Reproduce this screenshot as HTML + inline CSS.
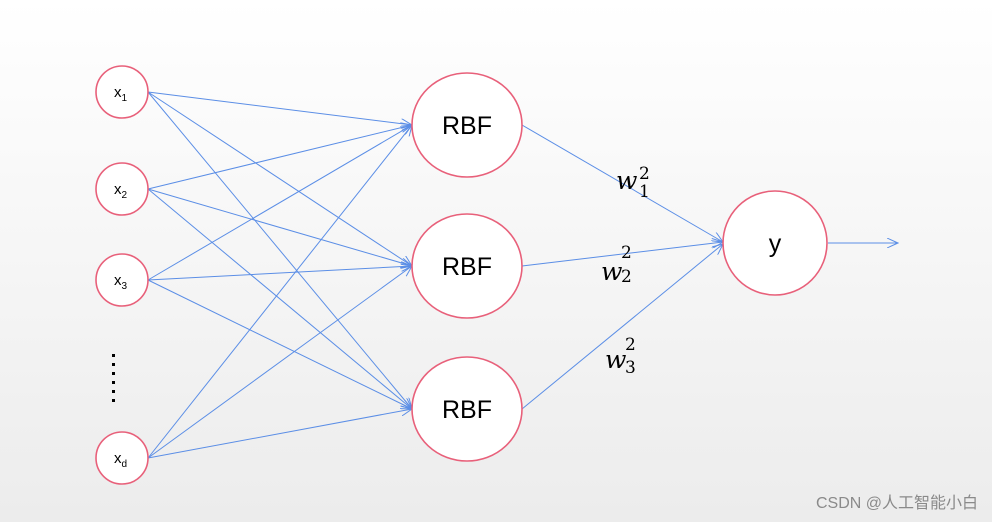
<!DOCTYPE html>
<html><head><style>
body{margin:0;}
</style></head><body>
<svg width="992" height="522" xmlns="http://www.w3.org/2000/svg" style="display:block">
<defs>
<linearGradient id="bg" x1="0" y1="0" x2="0" y2="1">
<stop offset="0" stop-color="#ffffff"/><stop offset="1" stop-color="#ececec"/>
</linearGradient>
<marker id="a" markerWidth="12" markerHeight="10" refX="11" refY="5" orient="auto" markerUnits="userSpaceOnUse">
<path d="M0,0 L11,5 L0,10" fill="none" stroke="#5b8ee6" stroke-width="1"/>
</marker>
</defs>
<rect width="992" height="522" fill="url(#bg)"/>
<g stroke="#5b8ee6" stroke-width="1" fill="none" marker-end="url(#a)">
<line x1="148" y1="92" x2="412" y2="125"/><line x1="148" y1="92" x2="412" y2="266"/><line x1="148" y1="92" x2="412" y2="409"/>
<line x1="148" y1="189" x2="412" y2="125"/><line x1="148" y1="189" x2="412" y2="266"/><line x1="148" y1="189" x2="412" y2="409"/>
<line x1="148" y1="280" x2="412" y2="125"/><line x1="148" y1="280" x2="412" y2="266"/><line x1="148" y1="280" x2="412" y2="409"/>
<line x1="148" y1="458" x2="412" y2="125"/><line x1="148" y1="458" x2="412" y2="266"/><line x1="148" y1="458" x2="412" y2="409"/>
<line x1="522" y1="125" x2="723" y2="242"/><line x1="522" y1="266" x2="723" y2="242"/><line x1="522" y1="409" x2="723" y2="244"/>
<line x1="828" y1="243" x2="898" y2="243"/>
</g>
<g fill="#fff" stroke="#e8607a" stroke-width="1.6">
<circle cx="122" cy="92" r="26"/><circle cx="122" cy="189" r="26"/><circle cx="122" cy="280" r="26"/><circle cx="122" cy="458" r="26"/>
<ellipse cx="467" cy="125" rx="55" ry="52"/><ellipse cx="467" cy="266" rx="55" ry="52"/><ellipse cx="467" cy="409" rx="55" ry="52"/>
<ellipse cx="775" cy="243" rx="52" ry="52"/>
</g>
<g font-family="Liberation Sans, sans-serif" fill="#000">
<text x="114" y="97" font-size="15">x<tspan font-size="10" dy="4">1</tspan></text>
<text x="114" y="194" font-size="15">x<tspan font-size="10" dy="4">2</tspan></text>
<text x="114" y="285" font-size="15">x<tspan font-size="10" dy="4">3</tspan></text>
<text x="114" y="463" font-size="15">x<tspan font-size="10" dy="4">d</tspan></text>
<text x="467" y="134" font-size="25" text-anchor="middle">RBF</text>
<text x="467" y="275" font-size="25" text-anchor="middle">RBF</text>
<text x="467" y="418" font-size="25" text-anchor="middle">RBF</text>
<text x="775" y="252" font-size="25" text-anchor="middle">y</text>
</g>
<g fill="#000">
<rect x="112" y="354" width="3" height="3"/><rect x="112" y="363" width="3" height="3"/><rect x="112" y="372" width="3" height="3"/><rect x="112" y="381" width="3" height="3"/><rect x="112" y="390" width="3" height="3"/><rect x="112" y="399" width="3" height="3"/>
</g>
<g font-family="DejaVu Serif, serif" fill="#000">
<text x="616" y="189" font-size="25" font-style="italic">w</text><text x="639" y="179" font-size="17">2</text><text x="639" y="197" font-size="17">1</text>
<text x="601" y="280" font-size="25" font-style="italic">w</text><text x="621" y="258" font-size="17">2</text><text x="621" y="282" font-size="17">2</text>
<text x="605" y="368" font-size="25" font-style="italic">w</text><text x="625" y="350" font-size="17">2</text><text x="625" y="373" font-size="17">3</text>
</g>
<text x="978" y="508" font-family="Liberation Sans, Noto Sans CJK SC, sans-serif" font-size="16" fill="#8a8a8a" text-anchor="end">CSDN @人工智能小白</text>
</svg>
</body></html>
